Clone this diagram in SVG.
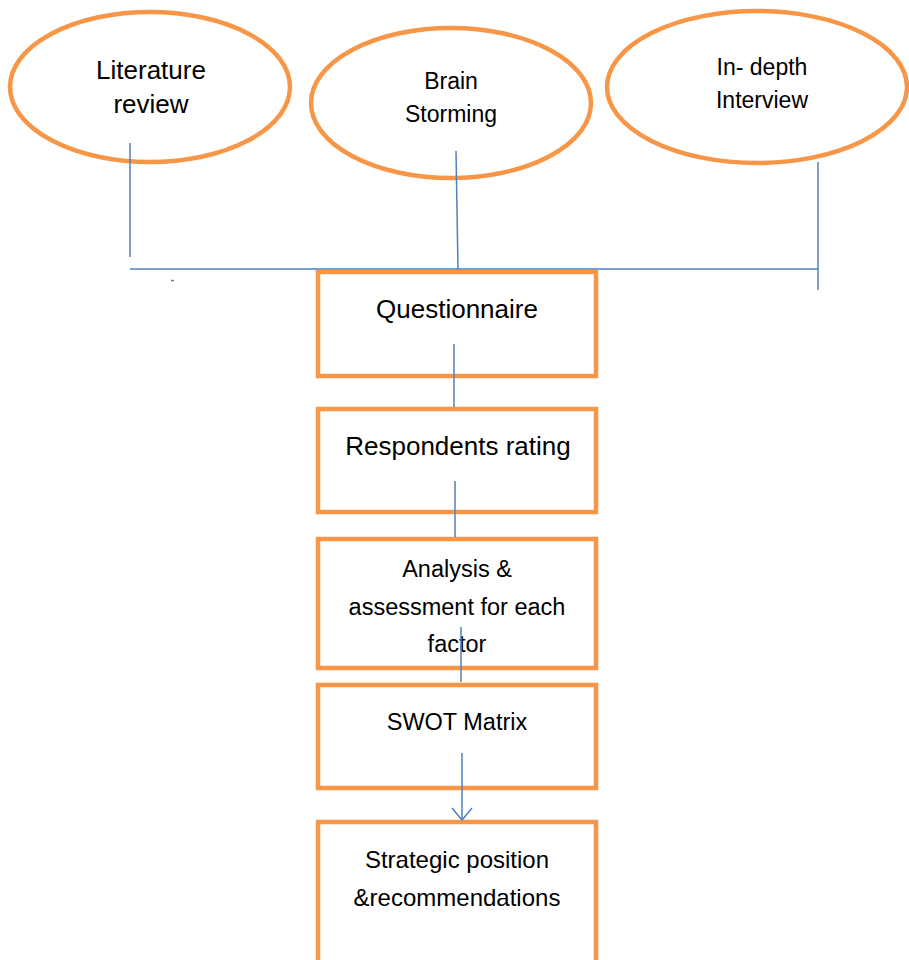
<svg xmlns="http://www.w3.org/2000/svg" width="909" height="960" viewBox="0 0 909 960">
<defs>
<style>
.node{fill:#fff;stroke:#F79646;stroke-width:4.5}
.lbl{font-family:"Liberation Sans",Arial,sans-serif;fill:#000;text-anchor:middle}
.conn{stroke:#4F81BD;stroke-width:1.5;fill:none}
</style>
</defs>
<rect width="909" height="960" fill="#fff"/>
<g id="literature">
<ellipse class="node" cx="150" cy="87" rx="140" ry="75"/>
<text class="lbl" font-size="26" x="151" y="79">Literature</text>
<text class="lbl" font-size="26" x="151" y="113">review</text>
</g>
<g id="brainstorming">
<ellipse class="node" cx="451" cy="103" rx="140" ry="75"/>
<text class="lbl" font-size="23" x="451" y="89">Brain</text>
<text class="lbl" font-size="23" x="451" y="122">Storming</text>
</g>
<g id="interview">
<ellipse class="node" cx="757" cy="87" rx="150" ry="76"/>
<text class="lbl" font-size="23" x="762" y="75">In- depth</text>
<text class="lbl" font-size="23" x="762" y="108">Interview</text>
</g>
<g id="questionnaire">
<rect class="node" x="318" y="272" width="278" height="104"/>
<text class="lbl" font-size="26" x="457" y="318">Questionnaire</text>
</g>
<g id="respondents">
<rect class="node" x="318" y="409" width="278" height="103"/>
<text class="lbl" font-size="26" x="458" y="455">Respondents rating</text>
</g>
<g id="analysis">
<rect class="node" x="318" y="539" width="278" height="129"/>
<text class="lbl" font-size="23.5" x="457" y="577">Analysis &amp;</text>
<text class="lbl" font-size="23.5" x="457" y="615">assessment for each</text>
<text class="lbl" font-size="23.5" x="457" y="652">factor</text>
</g>
<g id="swot">
<rect class="node" x="318" y="685" width="278" height="103"/>
<text class="lbl" font-size="23.5" x="457" y="730">SWOT Matrix</text>
</g>
<g id="strategic">
<rect class="node" x="318" y="822" width="278" height="160"/>
<text class="lbl" font-size="24" x="457" y="868">Strategic position</text>
<text class="lbl" font-size="24" x="457" y="906">&amp;recommendations</text>
</g>
<g id="connectors">
<line class="conn" x1="130" y1="143" x2="130" y2="257"/>
<line class="conn" x1="456" y1="151" x2="458" y2="269"/>
<line class="conn" x1="818" y1="162" x2="818" y2="290"/>
<line class="conn" x1="130" y1="269" x2="818" y2="269" stroke-width="2.5"/>
<line class="conn" x1="171" y1="280.5" x2="174" y2="280.5"/>
<line class="conn" x1="454" y1="344" x2="454" y2="407"/>
<line class="conn" x1="455" y1="481" x2="455" y2="537"/>
<line class="conn" x1="461" y1="627" x2="461" y2="682"/>
<line class="conn" x1="462" y1="753" x2="462" y2="820"/>
<polyline class="conn" points="452,808 462,820 472,808"/>
</g>
</svg>
